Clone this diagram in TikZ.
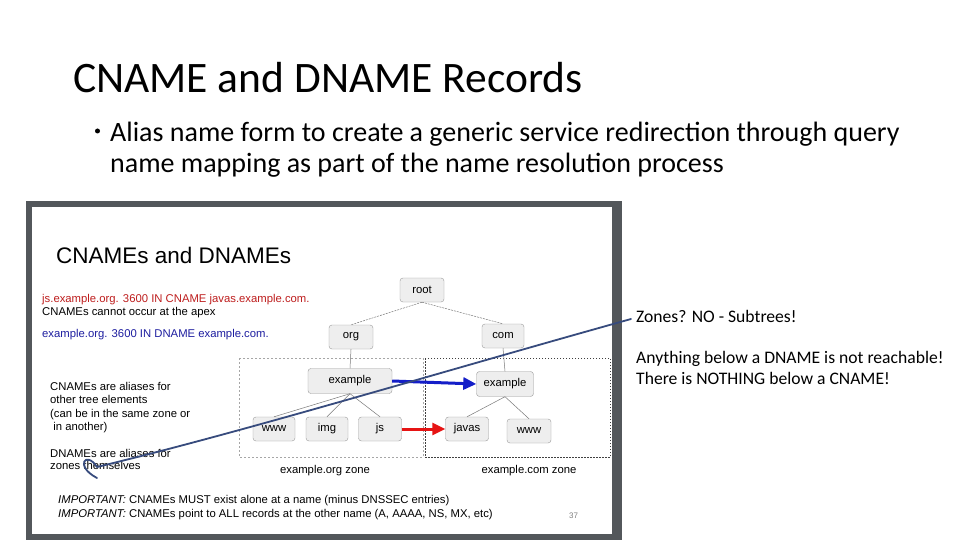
\documentclass[tikz,border=0pt]{standalone}
\usepackage{fontspec}
\setmainfont{Carlito}
\newfontfamily\arial{Liberation Sans}
\usetikzlibrary{arrows.meta}
\definecolor{framegray}{RGB}{83,87,91}
\definecolor{nodefill}{RGB}{238,238,238}
\definecolor{nodeborder}{RGB}{155,155,155}
\definecolor{edgegray}{RGB}{120,120,120}
\definecolor{redtext}{RGB}{190,30,30}
\definecolor{bluetext}{RGB}{30,30,160}
\definecolor{arrowblue}{RGB}{20,30,200}
\definecolor{arrowred}{RGB}{230,20,20}
\definecolor{annot}{RGB}{55,75,125}
\tikzset{
  tnode/.style={rectangle, rounded corners=3pt, draw=nodeborder, fill=nodefill,
    minimum height=24pt, inner sep=0pt, font=\arial\fontsize{11.3}{13}\selectfont},
  small/.style={anchor=base west, inner sep=0pt, font=\arial\fontsize{11.3}{13}\selectfont},
  zonelbl/.style={anchor=base, inner sep=0pt, font=\arial\fontsize{11.3}{13}\selectfont},
  bigtxt/.style={anchor=base west, inner sep=0pt, font=\fontsize{28}{32}\selectfont},
  righttxt/.style={anchor=base west, inner sep=0pt, font=\fontsize{17.6}{20}\selectfont},
  treeedge/.style={draw=edgegray, line width=0.5pt},
  rootedge/.style={draw=edgegray, line width=0.5pt, dash pattern=on 2pt off 1pt},
  bigarrow/.style={line width=3pt, -{Triangle[length=13pt,width=12pt]}},
}
\begin{document}
\begin{tikzpicture}[x=1pt,y=-1pt]
\useasboundingbox (0,0) rectangle (960,540);
\fill[white] (0,0) rectangle (960,540);
% slide title and bullet
\node[anchor=base west, inner sep=0pt, font=\fontsize{43.5}{50}\selectfont] (title) at (73,93) {CNAME and DNAME Records};
\node[circle, fill=black, inner sep=0pt, minimum size=5pt] (bul) at (97.5,131) {};
\node[bigtxt] (b1) at (110,142) {Alias name form to create a generic service redirection through query};
\node[bigtxt] (b2) at (110,172) {name mapping as part of the name resolution process};
% embedded slide frame
\fill[framegray] (26,201) rectangle (622,540);
\fill[white] (32,207) rectangle (612,534);
\node[anchor=base west, inner sep=0pt, font=\arial\fontsize{22.5}{26}\selectfont] (ititle) at (56,263) {CNAMEs and DNAMEs};
\node[small, text=redtext] (cn) at (42,302) {js.example.org. 3600 IN CNAME javas.example.com.};
\node[small] (apex) at (42,315) {CNAMEs cannot occur at the apex};
\node[small, text=bluetext] (dn) at (42,337) {example.org. 3600 IN DNAME example.com.};
\node[small] (l1) at (50,390) {CNAMEs are aliases for};
\node[small] (l2) at (50,403) {other tree elements};
\node[small] (l3) at (50,417) {(can be in the same zone or};
\node[small] (l4) at (50,430) {\ in another)};
\node[small] (l5) at (50,457) {DNAMEs are aliases for};
\node[small] (l6) at (50,469) {zones themselves};
\node[small] (imp1) at (58,503) {\textit{IMPORTANT:} CNAMEs MUST exist alone at a name (minus DNSSEC entries)};
\node[small] (imp2) at (58,517) {\textit{IMPORTANT:} CNAMEs point to ALL records at the other name (A, AAAA, NS, MX, etc)};
\node[anchor=base west, inner sep=0pt, text=gray, font=\arial\fontsize{8}{9}\selectfont] (pg) at (569,518) {37};
% zones
\draw[draw=gray!70, line width=0.5pt, dash pattern=on 2pt off 2pt] (239,358) rectangle (423,457);
\draw[draw=black!75, line width=0.6pt, dash pattern=on 1.5pt off 1.5pt] (425,358) rectangle (610,457);
\node[zonelbl] (zorg) at (325,473) {example.org zone};
\node[zonelbl] (zcom) at (529,473) {example.com zone};
% tree
\node[tnode, minimum width=44pt] (root) at (422,290) {root};
\node[tnode, minimum width=44pt] (org) at (351,337) {org};
\node[tnode, minimum width=42pt] (com) at (503,336) {com};
\node[tnode, minimum width=84pt, minimum height=25pt] (exo) at (350,381) {example};
\node[tnode, minimum width=57pt, minimum height=25pt] (exc) at (505,384) {example};
\node[tnode, minimum width=42pt] (www1) at (274,429) {www};
\node[tnode, minimum width=42pt] (img) at (327,429) {img};
\node[tnode, minimum width=43pt] (js) at (380,429) {js};
\node[tnode, minimum width=43pt] (javas) at (467,429) {javas};
\node[tnode, minimum width=44pt] (www2) at (529,431) {www};
\draw[rootedge] (root.south) -- (org.north);
\draw[rootedge] (root.south) -- (com.north);
\draw[treeedge] (org.south) -- (exo.north);
\draw[treeedge] (com.south) -- (exc.north);
\draw[treeedge] (exo.south) -- (www1.north);
\draw[treeedge] (exo.south) -- (img.north);
\draw[treeedge] (exo.south) -- (js.north);
\draw[treeedge] (exc.south) -- (javas.north);
\draw[treeedge] (exc.south) -- (www2.north);
\draw[bigarrow, arrowblue] (exo.east) -- (exc.west);
\draw[bigarrow, arrowred] (js.east) -- (javas.west);
% right side notes
\node[righttxt] (r1) at (636,322) {Zones? NO - Subtrees!};
\node[righttxt] (r2) at (636,363) {Anything below a DNAME is not reachable!};
\node[righttxt] (r3) at (636,384) {There is NOTHING below a CNAME!};
% annotation stroke
\coordinate (aS) at (631,319);
\coordinate (aE) at (97,467);
\coordinate (aC) at (97,478);
\draw[annot, line width=1.8pt, line cap=round, line join=round]
  (aS) .. controls (430,375) and (250,430) .. (aE)
       .. controls (86,450) and (74,466) .. (aC);
\end{tikzpicture}
\end{document}
